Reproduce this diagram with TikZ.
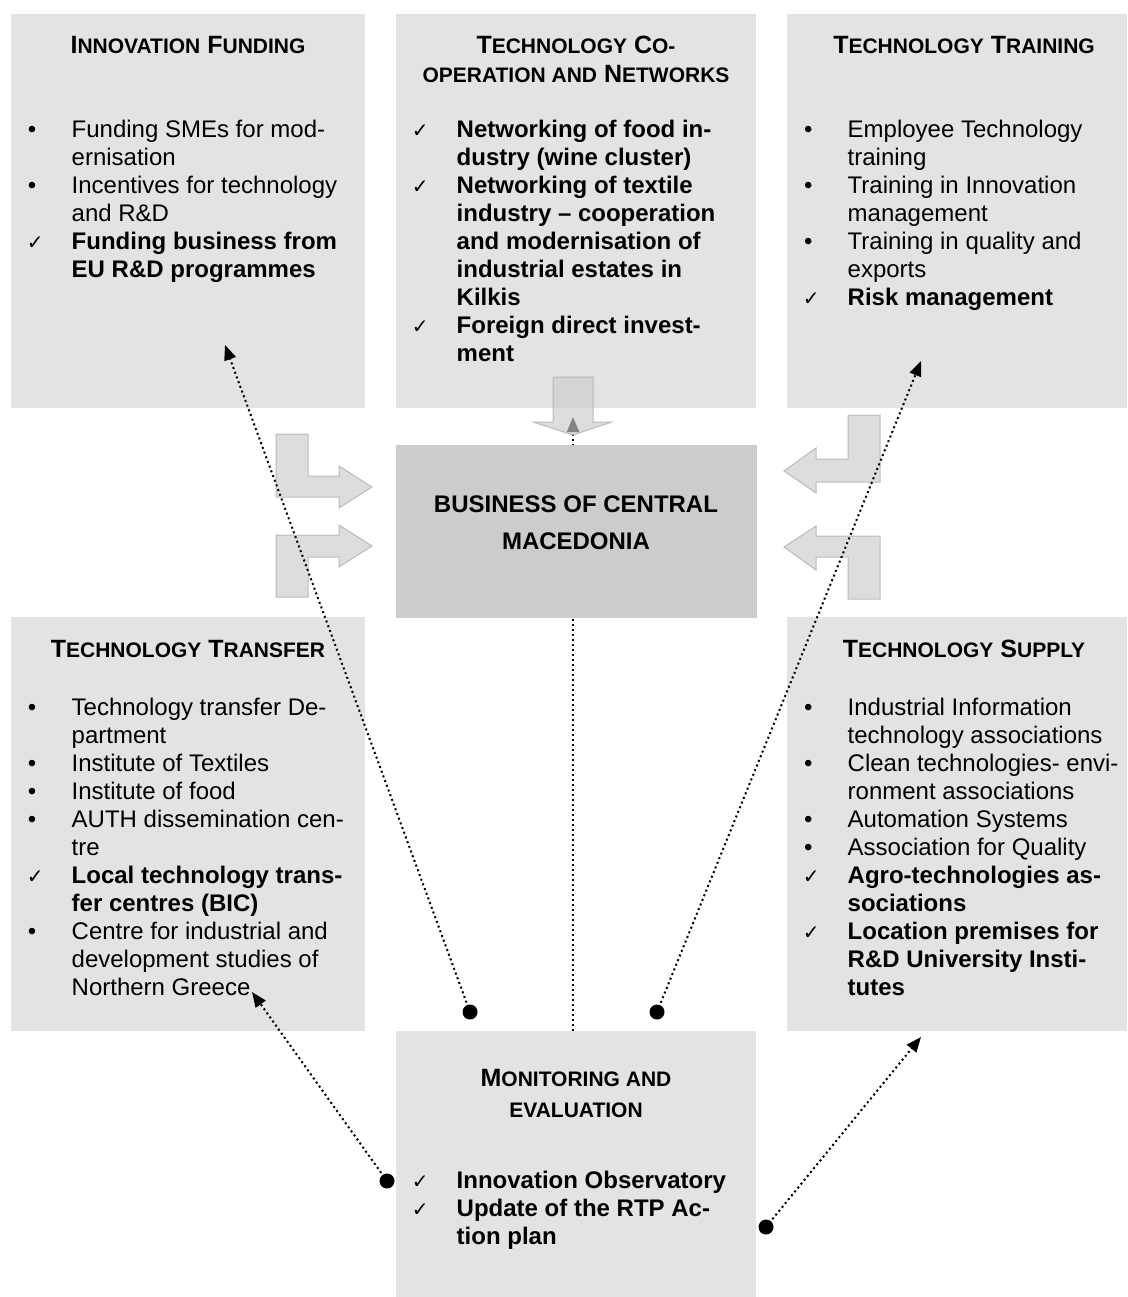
\documentclass[tikz,border=0pt]{standalone}
\usepackage{fontspec}
\setmainfont{Liberation Sans}
\newfontfamily\djvfont{DejaVu Sans}
\usetikzlibrary{arrows.meta}
\definecolor{boxgray}{HTML}{E3E3E3}
\definecolor{centergray}{HTML}{CCCCCC}
\definecolor{arrfill}{HTML}{CCCCCC}
\definecolor{arrdraw}{HTML}{B0B0B0}
\newcommand\mkb{\makebox[20pt]{•}\hspace*{29.5pt}}
\newcommand\mkc{\hspace*{3pt}\makebox[20pt]{\djvfont\mdseries\fontsize{20}{20}\selectfont ✓}\hspace*{26.5pt}}
\newcommand\mkn{\hspace*{49.5pt}}
\newcommand\capsm[1]{{\fontsize{21}{29}\selectfont #1}}
\tikzset{
  box/.style={fill=boxgray, draw=none, anchor=north west, inner sep=0pt, outer sep=0pt},
  centerbox/.style={fill=centergray, draw=none, anchor=north west, inner sep=0pt, outer sep=0pt},
  listtext/.style={anchor=base west, inner sep=0pt, font=\fontsize{24}{28}\selectfont},
  titletext/.style={anchor=base, inner sep=0pt, font=\fontsize{25}{29}\selectfont\bfseries},
  blockarrow/.style={fill=arrfill, fill opacity=0.65, draw=arrdraw, draw opacity=0.8, line width=1pt, line join=miter},
  dotline/.style={line width=2pt, dash pattern=on 2pt off 3pt, -{Triangle[length=15pt,width=12pt]}},
  enddot/.style={circle, fill=black, inner sep=0pt, minimum size=15pt}
}
\begin{document}
\begin{tikzpicture}[x=1pt,y=-1pt]
\fill[white] (0,0) rectangle (1127,1297);
\useasboundingbox (0,0) rectangle (1127,1297);

% boxes
\node[box, minimum width=354pt, minimum height=394pt] (fund) at (11,14) {};
\node[box, minimum width=360pt, minimum height=394pt] (coop) at (396,14) {};
\node[box, minimum width=340pt, minimum height=394pt] (train) at (787,14) {};
\node[box, minimum width=354pt, minimum height=414pt] (transf) at (11,617) {};
\node[box, minimum width=340pt, minimum height=414pt] (supply) at (787,617) {};
\node[box, minimum width=360pt, minimum height=266pt] (monit) at (396,1031) {};

% vertical dotted connector
\coordinate (vbot) at (573,1031);
\coordinate (vtop) at (573,417);
\draw[dotline] (vbot) -- (vtop);

% block arrows
\draw[blockarrow] (553,377) -- (593,377) -- (593,422) -- (612,422) -- (573,435) -- (533,422) -- (553,422) -- cycle;
\draw[blockarrow] (276,434) -- (308,434) -- (308,476) -- (339,476) -- (339,466) -- (372,487) -- (339,508) -- (339,497) -- (276,497) -- cycle;
\draw[blockarrow] (276,535) -- (339,535) -- (339,525) -- (372,546) -- (339,567) -- (339,557) -- (308,557) -- (308,597) -- (276,597) -- cycle;
\draw[blockarrow] (880,415) -- (848,415) -- (848,459) -- (816,459) -- (816,448) -- (784,471) -- (816,493) -- (816,482) -- (880,482) -- cycle;
\draw[blockarrow] (880,536) -- (816,536) -- (816,526) -- (784,547) -- (816,570) -- (816,557) -- (848,557) -- (848,599) -- (880,599) -- cycle;

% centre box
\node[centerbox, minimum width=361pt, minimum height=173pt] (busi) at (396,445) {};

% dotted connectors with dots
\node[enddot] (dA) at (470,1012) {};
\node[enddot] (dB) at (657,1012) {};
\node[enddot] (dC) at (387,1181) {};
\node[enddot] (dD) at (766,1227) {};
\coordinate (tA) at (225,345);
\coordinate (tB) at (921,361);
\coordinate (tC) at (252,992);
\coordinate (tD) at (921,1037);
\draw[dotline] (dA.center) -- (tA);
\draw[dotline] (dB.center) -- (tB);
\draw[dotline] (dC.center) -- (tC);
\draw[dotline] (dD.center) -- (tD);

% titles
\node[titletext] (fundT) at (188,54) {\begin{tabular}[t]{@{}c@{}}I\capsm{NNOVATION} F\capsm{UNDING}\end{tabular}};
\node[titletext] (coopT) at (576,54) {\begin{tabular}[t]{@{}c@{}}T\capsm{ECHNOLOGY} C\capsm{O-}\\ \capsm{OPERATION AND} N\capsm{ETWORKS}\end{tabular}};
\node[titletext] (trainT) at (964,54) {\begin{tabular}[t]{@{}c@{}}T\capsm{ECHNOLOGY} T\capsm{RAINING}\end{tabular}};
\node[titletext] (transfT) at (188,657) {\begin{tabular}[t]{@{}c@{}}T\capsm{ECHNOLOGY} T\capsm{RANSFER}\end{tabular}};
\node[titletext] (supplyT) at (964,657) {\begin{tabular}[t]{@{}c@{}}T\capsm{ECHNOLOGY} S\capsm{UPPLY}\end{tabular}};
\node[titletext, font=\fontsize{25}{31}\selectfont\bfseries] (monitT) at (576,1086) {\begin{tabular}[t]{@{}c@{}}M\capsm{ONITORING AND}\\ \capsm{EVALUATION}\end{tabular}};
\node[titletext, font=\fontsize{24}{37}\selectfont\bfseries] (busiT) at (576,512) {\begin{tabular}[t]{@{}c@{}}BUSINESS OF CENTRAL\\ MACEDONIA\end{tabular}};

% lists
\node[listtext] (fundL) at (22,138) {\begin{tabular}[t]{@{}l@{}}
\mkb Funding SMEs for mod-\\
\mkn ernisation\\
\mkb Incentives for technology\\
\mkn and R\&D\\
\mkc\textbf{Funding business from}\\
\mkn\textbf{EU R\&D programmes}
\end{tabular}};

\node[listtext] (coopL) at (407,138) {\begin{tabular}[t]{@{}l@{}}
\mkc\textbf{Networking of food in-}\\
\mkn\textbf{dustry (wine cluster)}\\
\mkc\textbf{Networking of textile}\\
\mkn\textbf{industry – cooperation}\\
\mkn\textbf{and modernisation of}\\
\mkn\textbf{industrial estates in}\\
\mkn\textbf{Kilkis}\\
\mkc\textbf{Foreign direct invest-}\\
\mkn\textbf{ment}
\end{tabular}};

\node[listtext] (trainL) at (798,138) {\begin{tabular}[t]{@{}l@{}}
\mkb Employee Technology\\
\mkn training\\
\mkb Training in Innovation\\
\mkn management\\
\mkb Training in quality and\\
\mkn exports\\
\mkc\textbf{Risk management}
\end{tabular}};

\node[listtext] (transfL) at (22,715) {\begin{tabular}[t]{@{}l@{}}
\mkb Technology transfer De-\\
\mkn partment\\
\mkb Institute of Textiles\\
\mkb Institute of food\\
\mkb AUTH dissemination cen-\\
\mkn tre\\
\mkc\textbf{Local technology trans-}\\
\mkn\textbf{fer centres (BIC)}\\
\mkb Centre for industrial and\\
\mkn development studies of\\
\mkn Northern Greece
\end{tabular}};

\node[listtext] (supplyL) at (798,715) {\begin{tabular}[t]{@{}l@{}}
\mkb Industrial Information\\
\mkn technology associations\\
\mkb Clean technologies- envi-\\
\mkn ronment associations\\
\mkb Automation Systems\\
\mkb Association for Quality\\
\mkc\textbf{Agro-technologies as-}\\
\mkn\textbf{sociations}\\
\mkc\textbf{Location premises for}\\
\mkn\textbf{R\&D University Insti-}\\
\mkn\textbf{tutes}
\end{tabular}};

\node[listtext] (monitL) at (407,1188) {\begin{tabular}[t]{@{}l@{}}
\mkc\textbf{Innovation Observatory}\\
\mkc\textbf{Update of the RTP Ac-}\\
\mkn\textbf{tion plan}
\end{tabular}};
\end{tikzpicture}
\end{document}
